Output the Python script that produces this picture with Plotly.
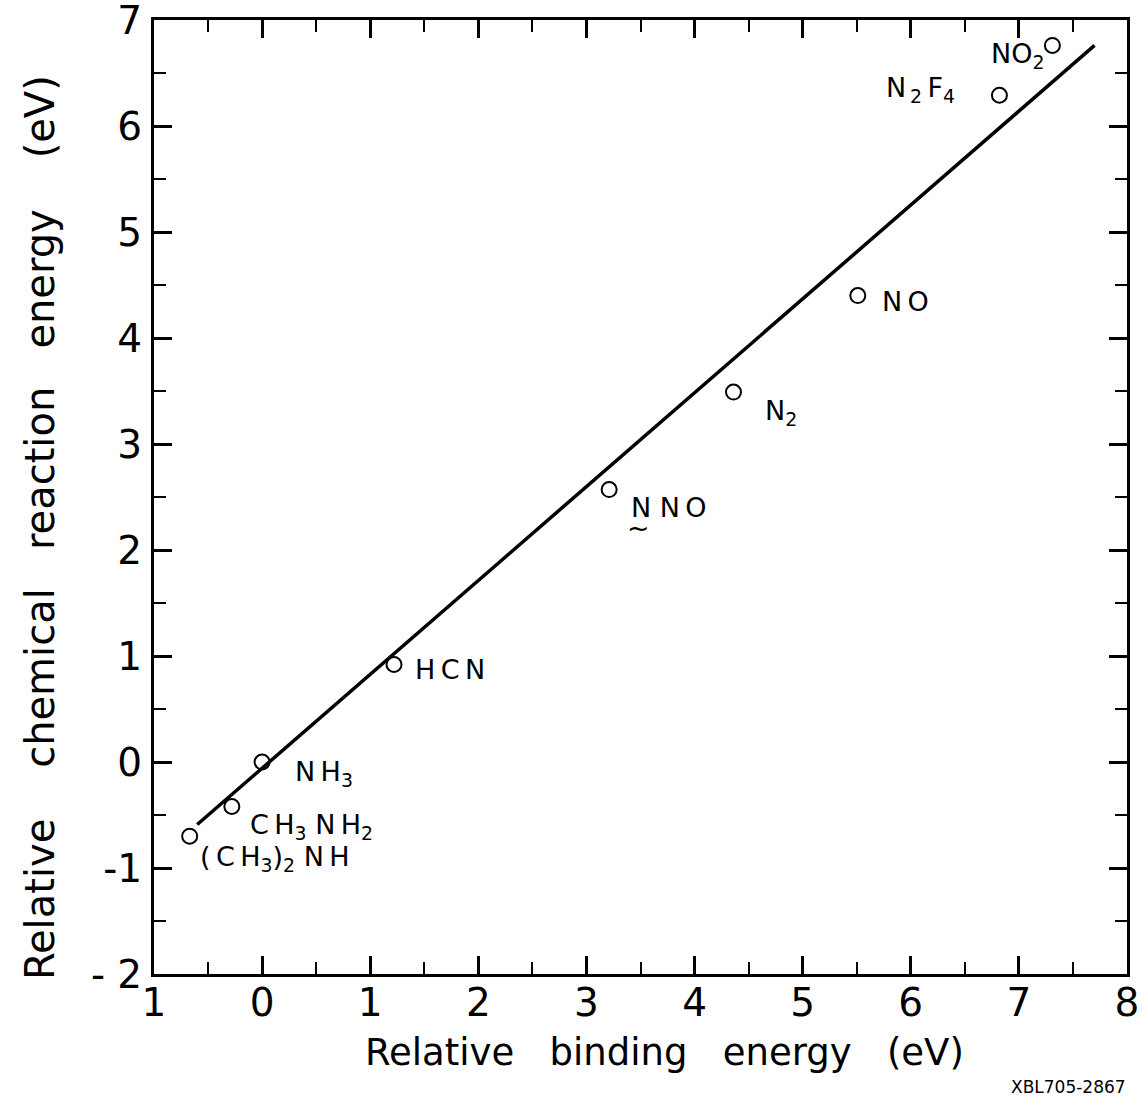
import plotly.graph_objects as go

# Relative core-level binding energy vs. relative chemical reaction energy (eV)
compounds = ["(CH3)2NH", "CH3NH2", "NH3", "HCN", "NNO", "N2", "NO", "N2F4", "NO2"]
binding_energy = [-0.67, -0.28, 0.0, 1.22, 3.21, 4.36, 5.51, 6.82, 7.31]
reaction_energy = [-0.70, -0.42, 0.0, 0.92, 2.57, 3.49, 4.40, 6.29, 6.76]

# straight-line fit through the points
fit_x = [-0.6, 7.7]
fit_y = [-0.59, 6.76]

x_tick_vals = [-1, 0, 1, 2, 3, 4, 5, 6, 7, 8]
x_tick_text = ["1", "0", "1", "2", "3", "4", "5", "6", "7", "8"]
y_tick_vals = [-2, -1, 0, 1, 2, 3, 4, 5, 6, 7]
y_tick_text = ["- 2", "-1", "0", "1", "2", "3", "4", "5", "6", "7"]

NB = "\u00a0"
TS = "\u2009"

# label markup and placement (pixel offsets from each point)
label_text = {
    "(CH3)2NH": f"({TS}C{TS}H<sub>3</sub>)<sub>2</sub>{NB}N{TS}H",
    "CH3NH2": f"C{TS}H<sub>3</sub>{NB}N{TS}H<sub>2</sub>",
    "NH3": f"N{TS}H<sub>3</sub>",
    "HCN": f"H{TS}C{TS}N",
    "NNO": f"N{NB}N{TS}O",
    "N2": "N<sub>2</sub>",
    "NO": f"N{TS}O",
    "N2F4": f"N<sub>{TS}2</sub>{TS}F<sub>4</sub>",
    "NO2": "NO<sub>2</sub>",
}
label_pos = {
    "(CH3)2NH": ("left", 8, -22),
    "CH3NH2": ("left", 16, -20),
    "NH3": ("left", 31, -11),
    "HCN": ("left", 19, -5),
    "NNO": ("left", 20, -18),
    "N2": ("left", 30, -20),
    "NO": ("left", 22, -6),
    "N2F4": ("right", -42, 6),
    "NO2": ("right", -6, -10),
}

FONT = "DejaVu Sans"

fig = go.Figure()

fig.add_trace(go.Scatter(
    x=fit_x, y=fit_y, mode="lines",
    line=dict(color="black", width=3.5),
    hoverinfo="skip", showlegend=False,
))

fig.add_trace(go.Scatter(
    x=binding_energy, y=reaction_energy, mode="markers",
    marker=dict(symbol="circle-open", size=15, color="black",
                line=dict(width=2, color="black")),
    text=compounds, showlegend=False,
))

annotations = []
for name, bx, ry in zip(compounds, binding_energy, reaction_energy):
    anchor, dx, dy = label_pos[name]
    annotations.append(dict(
        x=bx, y=ry, xref="x", yref="y", text=label_text[name],
        showarrow=False, xanchor=anchor, yanchor="middle",
        xshift=dx, yshift=dy, font=dict(family=FONT, size=27, color="black"),
    ))

# tilde mark beneath the first N of NNO
i_nno = compounds.index("NNO")
annotations.append(dict(
    x=binding_energy[i_nno], y=reaction_energy[i_nno], xref="x", yref="y",
    text="~", showarrow=False, xanchor="center", yanchor="middle",
    xshift=29, yshift=-38, font=dict(family=FONT, size=27, color="black"),
))

# axis titles and figure code
W, H = 1143, 1106
ML, MR, MT, MB = 154, 16, 20, 132


def px_to_paper(px, py):
    return (px - ML) / (W - ML - MR), 1 - (py - MT) / (H - MT - MB)


tx, ty = px_to_paper(664, 1052)
annotations.append(dict(
    x=tx, y=ty, xref="paper", yref="paper", xanchor="center", yanchor="middle",
    text=f"Relative{NB*3}binding{NB*3}energy{NB*3}(eV)",
    showarrow=False, font=dict(family=FONT, size=37, color="black"),
))
tx, ty = px_to_paper(40, 528)
annotations.append(dict(
    x=tx, y=ty, xref="paper", yref="paper", xanchor="center", yanchor="middle",
    textangle=-90,
    text=f"Relative{NB*4}chemical{NB*3}reaction{NB*3}energy{NB*4}(eV)",
    showarrow=False, font=dict(family=FONT, size=40, color="black"),
))
tx, ty = px_to_paper(1068, 1087)
annotations.append(dict(
    x=tx, y=ty, xref="paper", yref="paper", xanchor="center", yanchor="middle",
    text="XBL705-2867",
    showarrow=False, font=dict(family=FONT, size=17, color="black"),
))

axis_common = dict(
    showline=True, linewidth=3, linecolor="black", mirror="ticks",
    ticks="inside", ticklen=18, tickwidth=2.5, tickcolor="black",
    showgrid=False, zeroline=False, ticklabeloverflow="allow",
    automargin=False,
    tickfont=dict(family=FONT, size=39, color="black"),
    minor=dict(ticks="inside", ticklen=12, tickwidth=2, tickcolor="black",
               dtick=0.5, tick0=0, showgrid=False),
)

fig.update_layout(
    width=W, height=H,
    margin=dict(l=ML, r=MR, t=MT, b=MB, autoexpand=False),
    paper_bgcolor="white", plot_bgcolor="white",
    xaxis=dict(range=[-1, 8], tickmode="array", tickvals=x_tick_vals,
               ticktext=x_tick_text, ticklabelstandoff=-8, **axis_common),
    yaxis=dict(range=[-2, 7], tickmode="array", tickvals=y_tick_vals,
               ticktext=y_tick_text, ticklabelstandoff=1, **axis_common),
    annotations=annotations,
    font=dict(family=FONT, color="black"),
)

fig.write_html("out.html")
